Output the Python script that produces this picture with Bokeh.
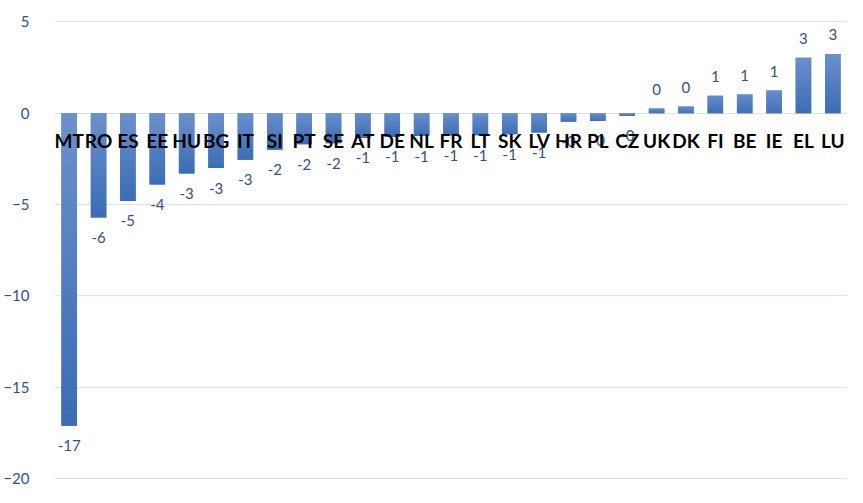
import numpy as np
from bokeh.plotting import figure
from bokeh.models import ColumnDataSource, Range1d, FixedTicker
from bokeh.core.properties import value
from bokeh.embed import file_html
from bokeh.resources import INLINE

countries = ["MT", "RO", "ES", "EE", "HU", "BG", "IT", "SI", "PT", "SE", "AT", "DE", "NL", "FR",
             "LT", "SK", "LV", "HR", "PL", "CZ", "UK", "DK", "FI", "BE", "IE", "EL", "LU"]
values = [-17.1, -5.7, -4.8, -3.9, -3.3, -3.0, -2.55, -2.0, -1.7, -1.65, -1.35, -1.3, -1.25, -1.2,
          -1.2, -1.15, -1.05, -0.47, -0.42, -0.15, 0.26, 0.37, 0.96, 1.03, 1.24, 3.04, 3.24]
y_ticks = [-20, -15, -10, -5, 0, 5]

FONT = "Lato"
LABEL_COLOR = "#34507f"

p = figure(width=847, height=487, x_range=Range1d(-0.5, 26.5), y_range=Range1d(-20.48, 5.62),
           output_backend="svg", toolbar_location=None,
           min_border_left=51, min_border_right=0, min_border_top=10, min_border_bottom=0)
p.outline_line_color = None
p.xaxis.visible = False
p.xgrid.visible = False
p.ygrid.grid_line_color = "#d9e3f1"
p.ygrid.grid_line_width = 1.2
p.yaxis.ticker = FixedTicker(ticks=y_ticks)
p.yaxis.axis_line_color = None
p.yaxis.major_tick_line_color = None
p.yaxis.minor_tick_line_color = None
p.yaxis.major_label_text_font = FONT
p.yaxis.major_label_text_font_size = "15px"
p.yaxis.major_label_text_color = LABEL_COLOR
p.yaxis.major_label_standoff = 19

xi = list(range(len(values)))
BAR_W = 0.53

# base bars in a mid tone, with a gradient (light at top, darker at bottom) laid over them
base = ColumnDataSource(dict(x=xi, top=[max(v, 0.0) for v in values], bottom=[min(v, 0.0) for v in values]))
p.vbar(x="x", top="top", bottom="bottom", width=BAR_W, source=base,
       fill_color="#5280c1", line_color=None)

N = 24
light = np.array([0x6c, 0x91, 0xcd], dtype=float)
dark = np.array([0x3a, 0x6b, 0xb3], dtype=float)
bx, btop, bbot, bcol = [], [], [], []
for i, v in enumerate(values):
    lo, hi = min(v, 0.0), max(v, 0.0)
    edges = np.linspace(lo, hi, N + 1)
    for j in range(N):
        t = (j + 0.5) / N
        c = dark + (light - dark) * t
        bx.append(i)
        bbot.append(edges[j])
        btop.append(edges[j + 1])
        bcol.append("#%02x%02x%02x" % tuple(int(round(k)) for k in c))
bars = ColumnDataSource(dict(x=bx, top=btop, bottom=bbot, color=bcol))
p.vbar(x="x", top="top", bottom="bottom", width=BAR_W, source=bars,
       fill_color="color", line_color=None)

# value labels
val_src = ColumnDataSource(dict(
    x=xi, y=values,
    text=[f"{v:.0f}" for v in values],
    off=[20 if v < 0 else -19 for v in values],
))
p.text(x="x", y="y", text="text", y_offset="off", source=val_src,
       text_align="center", text_baseline="middle",
       text_font=value(FONT), text_font_size="15px", text_color=LABEL_COLOR)

# category labels along the zero line
cat_src = ColumnDataSource(dict(x=xi, y=[0] * len(values), text=countries))
p.text(x="x", y="y", text="text", y_offset=27, source=cat_src,
       text_align="center", text_baseline="middle",
       text_font=value(FONT), text_font_style="bold", text_font_size="19px",
       text_color="black")

open("out.html", "w").write(file_html(p, INLINE))
